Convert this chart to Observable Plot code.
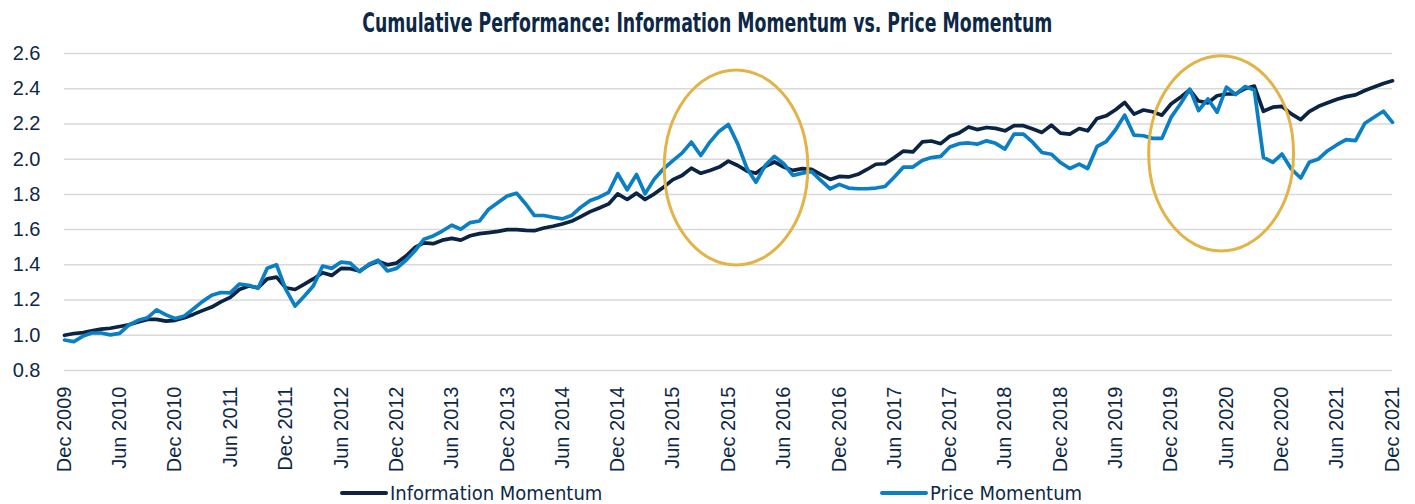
<!DOCTYPE html>
<html>
<head>
<meta charset="utf-8">
<script src="https://cdn.jsdelivr.net/npm/d3@7"></script>
<script src="https://cdn.jsdelivr.net/npm/@observablehq/plot@0.6"></script>
<style>
  html, body { margin: 0; padding: 0; background: #ffffff; }
  #wrap { position: relative; width: 1415px; height: 504px; overflow: hidden; }
  #title { position: absolute; left: 0; top: 7px; width: 1415px; text-align: center; line-height: 32px; }
  #title span { display: inline-block; transform: scaleX(0.74); transform-origin: center;
    font-family: "Liberation Sans Narrow", "Arial Narrow", "DejaVu Sans Condensed", sans-serif;
    font-stretch: condensed; font-weight: bold; font-size: 26px; color: #0d2847; white-space: nowrap; }
  #chart { position: absolute; left: 0; top: 40px; }
  .leg { position: absolute; top: 481px; display: flex; align-items: center;
    font-family: "Liberation Sans Narrow", "Arial Narrow", "DejaVu Sans Condensed", sans-serif;
    font-stretch: condensed; font-size: 20px; color: #0d2847; line-height: 24px; }
  .sw { display: inline-block; width: 48px; height: 4px; border-radius: 2px; margin-right: 2px; }
</style>
</head>
<body>
<div id="wrap">
  <div id="title"><span>Cumulative Performance: Information Momentum vs. Price Momentum</span></div>
  <div id="chart"></div>
  <div class="leg" style="left:340px"><span class="sw" style="background:#0c2444"></span>Information Momentum</div>
  <div class="leg" style="left:880px"><span class="sw" style="background:#0a7fc4"></span>Price Momentum</div>
</div>
<script>
// Monthly observations, Dec 2009 .. Dec 2021
const startYear = 2009, startMonth = 11; // December 2009
const infoMomentum = [
  1.00, 1.01, 1.015, 1.025, 1.035, 1.04, 1.05, 1.06, 1.075, 1.09,
  1.09, 1.08, 1.085, 1.10, 1.12, 1.14, 1.16, 1.19, 1.215, 1.26,
  1.28, 1.27, 1.32, 1.33, 1.27, 1.26, 1.29, 1.32, 1.355, 1.34,
  1.38, 1.378, 1.365, 1.40, 1.42, 1.40, 1.41, 1.45, 1.50, 1.525,
  1.52, 1.54, 1.55, 1.54, 1.565, 1.577, 1.583, 1.59, 1.60, 1.60,
  1.596, 1.594, 1.609, 1.619, 1.632, 1.647, 1.674, 1.702, 1.723, 1.746,
  1.803, 1.771, 1.807, 1.771, 1.803, 1.841, 1.884, 1.907, 1.949, 1.92,
  1.936, 1.955, 1.989, 1.964, 1.932, 1.92, 1.959, 1.984, 1.955, 1.936,
  1.946, 1.942, 1.914, 1.885, 1.902, 1.899, 1.914, 1.94, 1.971, 1.974,
  2.009, 2.046, 2.041, 2.098, 2.103, 2.088, 2.13, 2.149, 2.183, 2.168,
  2.18, 2.175, 2.161, 2.19, 2.19, 2.171, 2.152, 2.193, 2.148, 2.142,
  2.174, 2.161, 2.231, 2.246, 2.281, 2.322, 2.256, 2.279, 2.269, 2.25,
  2.313, 2.351, 2.394, 2.33, 2.32, 2.36, 2.37, 2.37, 2.40, 2.415,
  2.272, 2.295, 2.30, 2.257, 2.225, 2.27, 2.30, 2.32, 2.34, 2.355,
  2.365, 2.39, 2.41, 2.43, 2.445
];
const priceMomentum = [
  0.973, 0.964, 0.996, 1.013, 1.013, 1.002, 1.011, 1.057, 1.085, 1.10,
  1.144, 1.116, 1.095, 1.11, 1.152, 1.191, 1.227, 1.243, 1.241, 1.29,
  1.284, 1.267, 1.381, 1.40, 1.262, 1.166, 1.223, 1.28, 1.393, 1.38,
  1.416, 1.41, 1.361, 1.403, 1.426, 1.365, 1.38, 1.426, 1.482, 1.545,
  1.564, 1.592, 1.625, 1.602, 1.64, 1.649, 1.716, 1.754, 1.791, 1.807,
  1.744, 1.68, 1.68, 1.67, 1.661, 1.68, 1.727, 1.765, 1.784, 1.812,
  1.917, 1.826, 1.913, 1.803, 1.888, 1.945, 1.992, 2.034, 2.097, 2.021,
  2.097, 2.159, 2.197, 2.087, 1.945, 1.869, 1.965, 2.016, 1.974, 1.908,
  1.921, 1.929, 1.88, 1.832, 1.857, 1.836, 1.832, 1.832, 1.836, 1.845,
  1.899, 1.955, 1.955, 1.993, 2.009, 2.016, 2.069, 2.088, 2.092, 2.085,
  2.104, 2.09, 2.057, 2.142, 2.142, 2.095, 2.038, 2.028, 1.981, 1.947,
  1.972, 1.947, 2.072, 2.099, 2.167, 2.25, 2.136, 2.133, 2.118, 2.118,
  2.237, 2.313, 2.398, 2.276, 2.342, 2.266, 2.409, 2.367, 2.412, 2.393,
  2.01, 1.982, 2.029, 1.944, 1.893, 1.982, 2.001, 2.048, 2.082, 2.111,
  2.105, 2.204, 2.238, 2.272, 2.209
];
const yTicks = [0.8, 1.0, 1.2, 1.4, 1.6, 1.8, 2.0, 2.2, 2.4, 2.6];
const tickLabels = ["Dec 2009","Jun 2010","Dec 2010","Jun 2011","Dec 2011","Jun 2012","Dec 2012",
  "Jun 2013","Dec 2013","Jun 2014","Dec 2014","Jun 2015","Dec 2015","Jun 2016","Dec 2016",
  "Jun 2017","Dec 2017","Jun 2018","Dec 2018","Jun 2019","Dec 2019","Jun 2020","Dec 2020",
  "Jun 2021","Dec 2021"];
// highlight ellipses (annotation): centre date, centre value, half width in months, half height in value units
const ellipseCenters = ["2015-12-28", "2020-05-16"];
const ellipseValues = [1.95, 2.03];
const ellipseHalfMonths = [7.8, 7.85];
const ellipseHalfValues = [0.554, 0.554];

const months = infoMomentum.map((_, i) => new Date(Date.UTC(startYear, startMonth + i, 1)));
const parseLabel = d3.utcParse("%b %Y");
const tickDates = tickLabels.map(parseLabel);
const rows = months.flatMap((d, i) => [
  {date: d, value: infoMomentum[i], series: "Information Momentum"},
  {date: d, value: priceMomentum[i], series: "Price Momentum"}
]);

const chart = Plot.plot({
  width: 1415,
  height: 440,
  marginLeft: 64,
  marginRight: 23,
  marginTop: 13,
  marginBottom: 110,
  style: {fontFamily: "'Liberation Sans', Arial, sans-serif", fontSize: "20px", color: "#0d2847", background: "white"},
  x: {type: "utc", domain: [months[0], months[months.length - 1]], ticks: tickDates,
      tickFormat: d3.utcFormat("%b %Y"), tickRotate: -90, tickSize: 0, tickPadding: 16, label: null},
  y: {domain: [0.8, 2.6], ticks: yTicks, tickFormat: d => d.toFixed(1), tickSize: 0, tickPadding: 24, label: null},
  marks: [
    Plot.ruleY(yTicks, {stroke: "#d9d9d9", strokeWidth: 1.5}),
    Plot.lineY(rows.filter(r => r.series === "Information Momentum"), {x: "date", y: "value", stroke: "#0c2444", strokeWidth: 3.7, strokeLinejoin: "round"}),
    Plot.lineY(rows.filter(r => r.series === "Price Momentum"), {x: "date", y: "value", stroke: "#0a7fc4", strokeWidth: 3.7, strokeLinejoin: "round"})
  ]
});

const sx = chart.scale("x"), sy = chart.scale("y");
const svg = d3.select(chart);
ellipseCenters.forEach((c, k) => {
  const cd = new Date(c + "T00:00:00Z");
  const cx = sx.apply(cd);
  const rx = sx.apply(d3.utcDay.offset(cd, Math.round(ellipseHalfMonths[k] * 30.44))) - cx;
  const cy = sy.apply(ellipseValues[k]);
  const ry = sy.apply(ellipseValues[k] - ellipseHalfValues[k]) - cy;
  svg.append("ellipse").attr("cx", cx).attr("cy", cy).attr("rx", rx).attr("ry", ry)
    .attr("fill", "none").attr("stroke", "#e2b447").attr("stroke-width", 3);
});
document.getElementById("chart").appendChild(chart);
</script>
</body>
</html>
